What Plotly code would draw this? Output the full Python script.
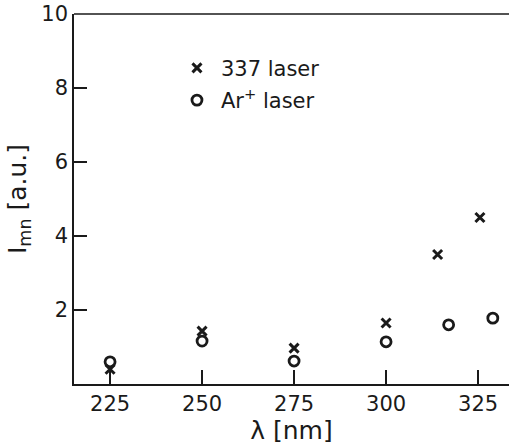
import plotly.graph_objects as go

# Data
wl_337 = [225, 250, 275, 300, 314, 325.5]
I_337 = [0.4, 1.43, 0.97, 1.65, 3.5, 4.5]
wl_ar = [225, 250, 275, 300, 317, 329]
I_ar = [0.6, 1.16, 0.62, 1.14, 1.6, 1.78]
x_ticks = [225, 250, 275, 300, 325]
y_ticks = [2, 4, 6, 8, 10]

FONT = "DejaVu Sans"
INK = "#1a1a1a"

fig = go.Figure()
fig.add_trace(go.Scatter(
    x=wl_337, y=I_337, mode="markers", name="337 laser",
    marker=dict(symbol="x-thin-open", size=9, line=dict(width=3, color=INK), color=INK),
    legendgroup="a",
))
fig.add_trace(go.Scatter(
    x=wl_ar, y=I_ar, mode="markers", name="Ar<sup>+</sup> laser",
    marker=dict(symbol="circle-open", size=10, line=dict(width=2.8, color=INK), color=INK),
    legendgroup="b",
))

fig.update_layout(
    width=509, height=448,
    margin=dict(l=74, r=0, t=14, b=64, autoexpand=False),
    paper_bgcolor="white", plot_bgcolor="white",
    font=dict(family=FONT, size=21, color=INK),
    showlegend=True,
    legend=dict(x=0.2275, y=0.909, xanchor="left", yanchor="top",
                bgcolor="rgba(0,0,0,0)", font=dict(size=21),
                tracegroupgap=2, itemwidth=38),
    xaxis=dict(range=[215.2, 333.4], tickvals=x_ticks, ticks="inside", ticklen=14,
               tickwidth=1.5, tickcolor=INK, showline=True, linecolor=INK, linewidth=1.5,
               showgrid=False, zeroline=False, automargin=False,
               title=dict(text="λ [nm]", standoff=2)),
    yaxis=dict(range=[0, 10], tickvals=y_ticks, ticks="inside", ticklen=13,
               tickwidth=1.5, tickcolor=INK, showline=True, linecolor=INK, linewidth=1.5,
               showgrid=False, zeroline=False, automargin=False,
               ticklabeloverflow="allow",
               title=dict(text="I<sub>mn</sub> [a.u.]", standoff=8)),
)
fig.add_shape(type="line", xref="paper", yref="paper", x0=0, x1=1, y0=1, y1=1,
              line=dict(color=INK, width=1.5))

# remove the page's default body margin so the figure fills the window
fig.write_html("out.html", config={"displayModeBar": False},
               post_script="document.body.style.margin='0';")
